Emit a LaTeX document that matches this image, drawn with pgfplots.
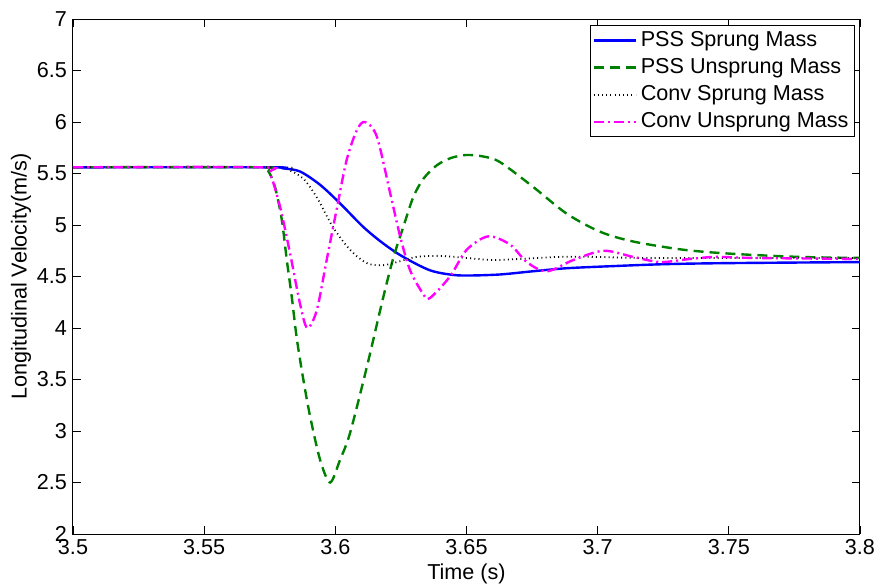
\documentclass[border=0pt]{standalone}
\usepackage{fontspec}
\setmainfont{Liberation Sans}
\usepackage{pgfplots}
\pgfplotsset{compat=1.18}
\definecolor{mgreen}{rgb}{0,0.5,0}
\definecolor{mmag}{rgb}{1,0,1}
\definecolor{mblue}{rgb}{0,0,1}
\begin{document}
\begin{tikzpicture}
\path[use as bounding box] (0,0) rectangle (437.5pt,293pt);
\begin{axis}[
  at={(36.5pt,26pt)}, anchor=south west,
  scale only axis, width=393.5pt, height=257.5pt,
  xmin=3.5, xmax=3.8, ymin=2, ymax=7,
  xtick={3.5,3.55,3.6,3.65,3.7,3.75,3.8},
  xticklabels={3.5,3.55,3.6,3.65,3.7,3.75,3.8},
  ytick={2,2.5,3,3.5,4,4.5,5,5.5,6,6.5,7},
  yticklabels={2,2.5,3,3.5,4,4.5,5,5.5,6,6.5,7},
  tick align=inside, major tick length=4pt,
  xtick pos=both, ytick pos=both,
  tick style={black, line width=0.4pt},
  axis line style={line width=0.5pt},
  tick label style={font=\fontsize{10.8}{12}\selectfont},
  xticklabel style={yshift=1pt},
  yticklabel style={xshift=0.5pt},
  label style={font=\fontsize{10.8}{12}\selectfont},
  xlabel={Time (s)},
  ylabel={Longitudinal Velocity(m/s)},
  xlabel style={at={(axis description cs:0.5,-0.078)}, anchor=center},
  ylabel style={at={(axis description cs:-0.066,0.5)}, anchor=center},
  legend style={at={(1,1)}, xshift=-2.5pt, yshift=-3pt, anchor=north east,
    draw=black, line width=0.5pt, font=\fontsize{10.8}{12}\selectfont,
    cells={anchor=west}, inner sep=1pt, row sep=0.5pt},
  legend image code/.code={\draw[#1] (0pt,0pt) -- (21pt,0pt);},
]
\addplot[mblue, line width=1.2pt, smooth, tension=0.5] coordinates {
(3.50,5.56) (3.575,5.56) (3.58,5.55) (3.5865,5.52) (3.5942,5.39) (3.6018,5.21)
(3.6107,4.98) (3.6183,4.82) (3.6259,4.69) (3.6361,4.56) (3.645,4.515) (3.652,4.51)
(3.663,4.52) (3.675,4.55) (3.688,4.58) (3.705,4.60) (3.726,4.62) (3.75,4.63) (3.8,4.64)};
\addlegendentry{PSS Sprung Mass}
\addplot[mgreen, line width=1.2pt, dash pattern=on 5pt off 3pt, smooth, tension=0.5] coordinates {
(3.5,5.56) (3.572,5.56) (3.5745,5.52) (3.577,5.37) (3.5796,5.05) (3.5815,4.66)
(3.5834,4.30) (3.5853,3.90) (3.5878,3.50) (3.5904,3.14) (3.5942,2.72) (3.598,2.50)
(3.6018,2.72) (3.6056,2.98) (3.612,3.62) (3.618,4.27) (3.6221,4.68) (3.6259,4.98)
(3.6297,5.27) (3.6336,5.45) (3.6387,5.58) (3.644,5.65) (3.65,5.68) (3.6564,5.665) (3.6628,5.61) (3.6754,5.37)
(3.6882,5.11) (3.7009,4.935) (3.7135,4.84) (3.7326,4.76) (3.7516,4.72) (3.777,4.69) (3.8,4.68)};
\addlegendentry{PSS Unsprung Mass}
\addplot[black, line width=0.9pt, dash pattern=on 0.5pt off 1.6pt, smooth, tension=0.5] coordinates {
(3.5,5.56) (3.578,5.56) (3.5827,5.53) (3.5878,5.45) (3.5929,5.27) (3.5991,4.98)
(3.6056,4.76) (3.612,4.63) (3.6183,4.61) (3.625,4.65) (3.631,4.69) (3.64,4.70)
(3.65,4.68) (3.66,4.66) (3.67,4.67) (3.685,4.69) (3.70,4.69) (3.72,4.68) (3.8,4.68)};
\addlegendentry{Conv Sprung Mass}
\addplot[mmag, line width=1.2pt, dash pattern=on 5pt off 2pt on 1pt off 2pt, smooth, tension=0.5] coordinates {
(3.5,5.56) (3.572,5.56) (3.5751,5.50) (3.5789,5.18) (3.5827,4.73) (3.5865,4.24)
(3.5893,4.00) (3.5929,4.17) (3.5967,4.66) (3.6005,5.15) (3.6043,5.63) (3.6082,5.92)
(3.6113,6.00) (3.6158,5.86) (3.6209,5.31) (3.6247,4.89) (3.6285,4.56) (3.6335,4.33)
(3.636,4.29) (3.6437,4.50) (3.6501,4.76) (3.6583,4.89) (3.6666,4.81) (3.673,4.64)
(3.6806,4.55) (3.6907,4.66) (3.7022,4.75) (3.7136,4.69) (3.7238,4.64) (3.735,4.67)
(3.745,4.69) (3.76,4.68) (3.8,4.67)};
\addlegendentry{Conv Unsprung Mass}
\end{axis}
\end{tikzpicture}
\end{document}
